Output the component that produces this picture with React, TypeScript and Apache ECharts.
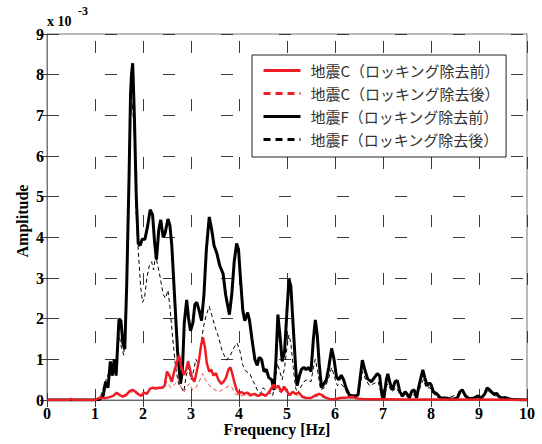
import React, { useEffect, useRef } from "react";
import * as echarts from "echarts";

// ---- data (amplitudes in units of 1e-3) ----
const xTicks = [0, 1, 2, 3, 4, 5, 6, 7, 8, 9, 10];
const yTicks = [0, 1, 2, 3, 4, 5, 6, 7, 8, 9];

const seriesNames = [
  "地震C（ロッキング除去前）",
  "地震C（ロッキング除去後）",
  "地震F（ロッキング除去前）",
  "地震F（ロッキング除去後）",
];

// 地震F before (black solid)
const fF1 = [0, 1.0, 1.1, 1.17, 1.22, 1.27, 1.32, 1.36, 1.4, 1.44, 1.5, 1.54, 1.58, 1.62, 1.66, 1.71, 1.74, 1.76, 1.785, 1.82, 1.86, 1.9, 1.94, 1.98, 2.04, 2.1, 2.15, 2.2, 2.24, 2.28, 2.33, 2.37, 2.42, 2.46, 2.52, 2.56, 2.6, 2.66, 2.72, 2.78, 2.82, 2.86, 2.91, 2.95, 2.99, 3.04, 3.08, 3.12, 3.17, 3.22, 3.27, 3.32, 3.38, 3.43, 3.48, 3.54, 3.6, 3.67, 3.72, 3.8, 3.85, 3.9, 3.95, 3.99, 4.03, 4.08, 4.12, 4.18, 4.22, 4.27, 4.33, 4.38, 4.42, 4.47, 4.52, 4.57, 4.62, 4.68, 4.73, 4.77, 4.81, 4.86, 4.9, 4.95, 5.0, 5.04, 5.08, 5.13, 5.18, 5.21, 5.26, 5.3, 5.35, 5.4, 5.45, 5.5, 5.55, 5.59, 5.63, 5.67, 5.72, 5.77, 5.82, 5.87, 5.93, 5.98, 6.03, 6.08, 6.13, 6.18, 6.23, 6.3, 6.4, 6.48, 6.53, 6.57, 6.62, 6.68, 6.76, 6.82, 6.88, 6.93, 6.98, 7.02, 7.07, 7.1, 7.15, 7.2, 7.25, 7.3, 7.35, 7.41, 7.46, 7.5, 7.55, 7.6, 7.65, 7.7, 7.74, 7.8, 7.83, 7.87, 7.92, 7.97, 8.0, 8.05, 8.12, 8.2, 8.3, 8.45, 8.55, 8.6, 8.65, 8.72, 8.8, 8.9, 8.97, 9.05, 9.12, 9.17, 9.22, 9.3, 9.37, 9.42, 9.48, 9.55, 9.6, 9.7, 10];
const aF1 = [0, 0, 0.02, 0.1, 0.45, 0.3, 0.95, 0.6, 1.0, 0.6, 2.0, 1.95, 1.4, 1.25, 2.8, 5.5, 7.5, 8.0, 8.28, 7.0, 5.0, 3.85, 3.8, 3.95, 3.95, 4.3, 4.68, 4.55, 3.9, 3.45, 4.2, 4.43, 4.0, 4.1, 4.45, 4.3, 3.8, 2.5, 1.2, 0.4, 0.7, 1.9, 2.46, 2.0, 1.7, 1.9, 2.35, 2.4, 2.2, 1.95, 2.6, 3.7, 4.5, 4.2, 3.8, 3.6, 3.3, 3.1, 2.6, 2.1, 2.6, 3.4, 3.85, 3.7, 3.0, 2.2, 1.95, 2.15, 1.95, 1.5, 1.0, 0.85, 1.05, 1.0, 0.7, 0.75, 0.55, 0.5, 0.25, 1.0, 2.1, 1.5, 0.95, 1.2, 2.2, 2.97, 2.8, 1.8, 0.8, 0.35, 0.6, 0.75, 0.8, 0.75, 0.8, 0.7, 1.5, 1.97, 1.6, 0.9, 0.3, 0.4, 0.5, 0.8, 1.27, 1.0, 0.57, 0.5, 0.61, 0.5, 0.3, 0.12, 0.1, 0.12, 0.6, 0.98, 0.75, 0.52, 0.45, 0.55, 0.65, 0.6, 0.1, 0.05, 0.5, 0.64, 0.4, 0.25, 0.45, 0.48, 0.2, 0.1, 0.2, 0.15, 0.05, 0.22, 0.25, 0.05, 0.3, 0.6, 0.74, 0.55, 0.35, 0.42, 0.38, 0.2, 0.15, 0.05, 0.05, 0.02, 0.05, 0.2, 0.25, 0.1, 0.03, 0.05, 0.1, 0.05, 0.15, 0.3, 0.25, 0.15, 0.16, 0.08, 0.05, 0.06, 0.04, 0.01, 0];

// 地震F after (black dashed)
const fF2 = [0, 1.0, 1.1, 1.2, 1.3, 1.36, 1.4, 1.45, 1.5, 1.55, 1.6, 1.65, 1.7, 1.74, 1.78, 1.82, 1.86, 1.9, 1.95, 1.99, 2.03, 2.08, 2.13, 2.18, 2.22, 2.26, 2.31, 2.36, 2.42, 2.47, 2.52, 2.56, 2.62, 2.68, 2.74, 2.8, 2.85, 2.9, 2.95, 3.0, 3.05, 3.1, 3.15, 3.2, 3.26, 3.32, 3.38, 3.43, 3.5, 3.57, 3.65, 3.74, 3.82, 3.9, 3.96, 4.02, 4.08, 4.15, 4.22, 4.3, 4.4, 4.45, 4.5, 4.55, 4.62, 4.7, 4.76, 4.8, 4.85, 4.9, 4.95, 5.0, 5.04, 5.08, 5.13, 5.18, 5.22, 5.28, 5.35, 5.42, 5.5, 5.55, 5.59, 5.64, 5.7, 5.78, 5.86, 5.93, 5.98, 6.05, 6.12, 6.2, 6.3, 6.45, 6.53, 6.57, 6.64, 6.72, 6.8, 6.9, 6.98, 7.05, 7.1, 7.18, 7.28, 7.38, 7.5, 7.62, 7.7, 7.8, 7.84, 7.9, 7.98, 8.1, 8.3, 8.65, 8.75, 9.0, 9.2, 9.3, 9.5, 9.7, 10];
const aF2 = [0, 0, 0.02, 0.4, 0.7, 0.6, 0.9, 0.8, 1.6, 1.3, 1.1, 2.5, 5.0, 7.0, 7.3, 6.5, 4.5, 3.7, 2.8, 2.4, 2.5, 3.0, 3.3, 3.4, 3.2, 3.55, 3.3, 3.0, 2.6, 2.5, 2.7, 2.3, 1.5, 0.8, 0.4, 0.3, 0.2, 0.6, 0.8, 0.5, 0.7, 1.0, 0.9, 1.3, 1.8, 2.1, 2.3, 2.1, 1.8, 1.56, 1.2, 0.98, 1.1, 1.3, 1.4, 1.2, 0.85, 0.7, 0.66, 0.45, 0.2, 0.15, 0.3, 0.25, 0.2, 0.1, 0.5, 0.9, 0.7, 0.5, 0.8, 1.3, 1.6, 1.4, 0.8, 0.3, 0.15, 0.3, 0.45, 0.5, 0.45, 0.8, 1.0, 0.7, 0.25, 0.3, 0.5, 0.8, 0.6, 0.35, 0.4, 0.3, 0.05, 0.03, 0.4, 0.7, 0.5, 0.35, 0.4, 0.45, 0.05, 0.3, 0.4, 0.2, 0.3, 0.08, 0.1, 0.15, 0.05, 0.4, 0.5, 0.3, 0.3, 0.08, 0.03, 0.18, 0.05, 0.05, 0.22, 0.12, 0.04, 0.01, 0];

// 地震C before (red solid)
const fC1 = [0, 0.45, 0.5, 0.55, 1.0, 1.05, 1.1, 1.2, 1.3, 1.38, 1.45, 1.52, 1.58, 1.65, 1.72, 1.78, 1.85, 1.9, 1.96, 2.02, 2.08, 2.15, 2.2, 2.27, 2.33, 2.4, 2.45, 2.5, 2.55, 2.6, 2.65, 2.7, 2.75, 2.8, 2.85, 2.9, 2.94, 2.98, 3.02, 3.07, 3.12, 3.17, 3.21, 3.25, 3.29, 3.33, 3.38, 3.42, 3.47, 3.52, 3.57, 3.63, 3.68, 3.73, 3.78, 3.82, 3.86, 3.9, 3.95, 4.0, 4.05, 4.1, 4.17, 4.25, 4.32, 4.4, 4.48, 4.55, 4.62, 4.68, 4.72, 4.77, 4.82, 4.88, 4.94, 5.0, 5.05, 5.12, 5.18, 5.25, 5.32, 5.4, 5.5, 5.6, 5.67, 5.73, 5.8, 5.9, 6.0, 6.1, 6.25, 6.35, 6.45, 6.6, 7.0, 7.5, 8.0, 9.0, 10];
const aC1 = [0, 0, 0.03, 0, 0, 0.03, 0.06, 0.04, 0.07, 0.1, 0.18, 0.12, 0.08, 0.12, 0.22, 0.25, 0.2, 0.15, 0.1, 0.18, 0.15, 0.28, 0.3, 0.28, 0.3, 0.3, 0.35, 0.7, 0.6, 0.45, 0.7, 0.9, 1.1, 0.8, 0.62, 0.75, 0.95, 0.75, 0.55, 0.45, 0.7, 1.0, 1.35, 1.54, 1.3, 0.9, 0.7, 0.75, 0.6, 0.66, 0.5, 0.4, 0.45, 0.55, 0.75, 0.8, 0.65, 0.45, 0.25, 0.15, 0.2, 0.15, 0.18, 0.12, 0.15, 0.1, 0.15, 0.1, 0.18, 0.3, 0.38, 0.3, 0.35, 0.2, 0.33, 0.22, 0.12, 0.2, 0.15, 0.18, 0.08, 0.05, 0.05, 0.12, 0.15, 0.12, 0.06, 0.02, 0.02, 0.05, 0.06, 0.08, 0.04, 0.02, 0.02, 0.01, 0.01, 0.01, 0];

// 地震C after (red dashed)
const fC2 = [0, 1.0, 1.1, 1.3, 1.45, 1.55, 1.75, 1.95, 2.15, 2.25, 2.4, 2.5, 2.58, 2.67, 2.74, 2.8, 2.86, 2.92, 2.97, 3.03, 3.1, 3.17, 3.24, 3.3, 3.36, 3.42, 3.5, 3.58, 3.65, 3.72, 3.8, 3.86, 3.92, 4.0, 4.1, 4.2, 4.35, 4.5, 4.62, 4.72, 4.8, 4.88, 4.95, 5.05, 5.15, 5.3, 5.5, 5.65, 5.8, 6.0, 6.3, 6.6, 10];
const aC2 = [0, 0, 0.04, 0.06, 0.15, 0.1, 0.2, 0.1, 0.25, 0.32, 0.28, 0.45, 0.3, 0.4, 0.5, 0.3, 0.2, 0.35, 0.4, 0.25, 0.3, 0.45, 0.65, 0.5, 0.4, 0.3, 0.25, 0.2, 0.25, 0.3, 0.35, 0.3, 0.15, 0.1, 0.12, 0.1, 0.1, 0.12, 0.15, 0.3, 0.25, 0.18, 0.25, 0.1, 0.15, 0.06, 0.05, 0.1, 0.05, 0.02, 0.05, 0.02, 0];

const pairs = (f: number[], a: number[]) => f.map((x, i) => [x, a[i]]);

const SERIF = "'Liberation Serif', 'Times New Roman', serif";
const CJK = "'Noto Sans CJK JP', sans-serif";

export default function App() {
  const ref = useRef<HTMLDivElement>(null);
  useEffect(() => {
    if (!ref.current) return;
    const chart = echarts.init(ref.current, undefined, { renderer: "svg" });
    const gridDash = { color: "#3a3a3a", width: 1 };
    const hidden = { color: "rgba(0,0,0,0)", borderColor: "rgba(0,0,0,0)", borderWidth: 0 };
    const option: any = {
      animation: false,
      backgroundColor: "#ffffff",
      grid: {
        left: 47,
        top: 34,
        width: 480,
        height: 366,
        show: true,
        borderColor: "#777",
        borderWidth: 1,
      },
      xAxis: [
        {
          type: "value",
          min: xTicks[0],
          max: xTicks[xTicks.length - 1],
          interval: 1,
          position: "bottom",
          axisLine: { show: true, onZero: false, lineStyle: { color: "#666" } },
          axisTick: { show: true, inside: true, length: 7, lineStyle: { color: "#3a3a3a" } },
          axisLabel: { color: "#000", fontFamily: SERIF, fontWeight: "bold", fontSize: 16, margin: 5 },
          splitLine: { show: true, lineStyle: { ...gridDash, type: [12, 46], dashOffset: 51 } },
        },
        {
          type: "value",
          min: xTicks[0],
          max: xTicks[xTicks.length - 1],
          interval: 1,
          position: "top",
          axisLine: { show: false },
          axisTick: { show: true, inside: true, length: 7, lineStyle: { color: "#3a3a3a" } },
          axisLabel: { show: false },
          splitLine: { show: false },
        },
      ],
      yAxis: [
        {
          type: "value",
          min: yTicks[0],
          max: yTicks[yTicks.length - 1],
          interval: 1,
          position: "left",
          axisLine: { show: true, onZero: false, lineStyle: { color: "#777" } },
          axisTick: { show: true, inside: true, length: 7, lineStyle: { color: "#3a3a3a" } },
          axisLabel: { color: "#000", fontFamily: SERIF, fontWeight: "bold", fontSize: 16, margin: 3 },
          splitLine: { show: true, lineStyle: { ...gridDash, type: [12, 46], dashOffset: 0 } },
        },
        {
          type: "value",
          min: yTicks[0],
          max: yTicks[yTicks.length - 1],
          interval: 1,
          position: "right",
          axisLine: { show: false },
          axisTick: { show: true, inside: true, length: 7, lineStyle: { color: "#3a3a3a" } },
          axisLabel: { show: false },
          splitLine: { show: false },
        },
      ],
      legend: {
        orient: "vertical",
        left: 252,
        top: 55,
        itemWidth: 37,
        itemHeight: 14,
        itemGap: 8,
        padding: [8, 6, 10, 10],
        borderColor: "#222",
        borderWidth: 1,
        backgroundColor: "#fff",
        textStyle: { fontFamily: CJK, fontSize: 15, color: "#333", padding: [0, 0, 0, 5] },
        itemStyle: hidden,
        lineStyle: { width: 3 },
        data: [
          { name: seriesNames[0], itemStyle: hidden },
          { name: seriesNames[1], itemStyle: hidden, lineStyle: { type: [7, 5], width: 3, color: "#ee1c25" } },
          { name: seriesNames[2], itemStyle: hidden },
          { name: seriesNames[3], itemStyle: hidden, lineStyle: { type: [7, 5], width: 3, color: "#000" } },
        ],
      },
      graphic: [
        {
          type: "text",
          left: 47,
          top: 14,
          style: { text: "x 10", fontFamily: SERIF, fontWeight: "bold", fontSize: 14, fill: "#000" },
        },
        {
          type: "text",
          left: 78,
          top: 5,
          style: { text: "-3", fontFamily: SERIF, fontWeight: "bold", fontSize: 12, fill: "#000" },
        },
        {
          type: "text",
          x: 277,
          y: 429,
          style: {
            text: "Frequency [Hz]",
            fontFamily: SERIF,
            fontWeight: "bold",
            fontSize: 16,
            fill: "#000",
            align: "center",
            verticalAlign: "middle",
          },
        },
        {
          type: "text",
          x: 22,
          y: 221,
          rotation: Math.PI / 2,
          style: {
            text: "Amplitude",
            fontFamily: SERIF,
            fontWeight: "bold",
            fontSize: 16,
            fill: "#000",
            align: "center",
            verticalAlign: "middle",
          },
        },
      ],
      series: [
        {
          name: seriesNames[3],
          type: "line",
          symbol: "none",
          data: pairs(fF2, aF2),
          lineStyle: { color: "#000", width: 1, type: [4, 3] },
          itemStyle: { color: "#000" },
          z: 2,
        },
        {
          name: seriesNames[2],
          type: "line",
          symbol: "none",
          data: pairs(fF1, aF1),
          lineStyle: { color: "#000", width: 3 },
          itemStyle: { color: "#000" },
          z: 3,
        },
        {
          name: seriesNames[1],
          type: "line",
          symbol: "none",
          data: pairs(fC2, aC2),
          lineStyle: { color: "#f04545", width: 1, type: [4, 3] },
          itemStyle: { color: "#ee1c25" },
          z: 4,
        },
        {
          name: seriesNames[0],
          type: "line",
          symbol: "none",
          data: pairs(fC1, aC1),
          lineStyle: { color: "#ee1c25", width: 2.5 },
          itemStyle: { color: "#ee1c25" },
          z: 5,
        },
      ],
    };
    chart.setOption(option);
    return () => chart.dispose();
  }, []);
  return (
    <div
      ref={ref}
      style={{ position: "absolute", left: 0, top: 0, width: 542, height: 444 }}
    />
  );
}
